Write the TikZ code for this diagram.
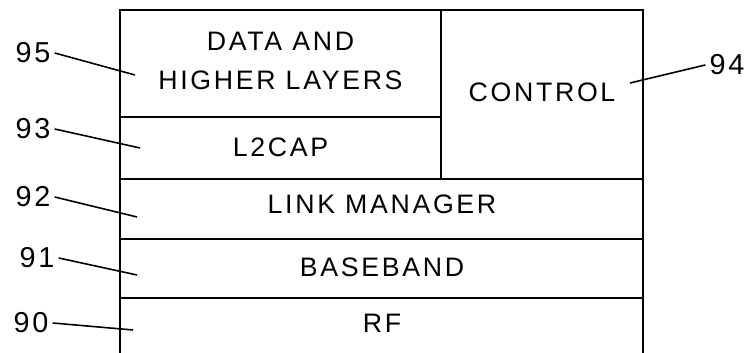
\documentclass[tikz,border=0pt]{standalone}
\usepackage{fontspec}
\setmainfont{Liberation Sans}[LetterSpace=10]
\usetikzlibrary{positioning}

\begin{document}
\begin{tikzpicture}[
  layer/.style={font=\fontsize{7.6}{11.2}\selectfont, align=center, inner sep=0pt},
  refnum/.style={font=\fontsize{8.2}{9}\selectfont, inner sep=1pt},
  frame/.style={line width=0.6pt},
  leader/.style={line width=0.45pt}
]
\useasboundingbox (0,0) rectangle (7.53,3.53);

% protocol stack outline, open at the bottom
\draw[frame] (1.20,0) -- (1.20,3.43) -- (6.43,3.43) -- (6.43,0);
\draw[frame] (4.41,3.43) -- (4.41,1.74);
\draw[frame] (1.20,2.36) -- (4.41,2.36);
\draw[frame] (1.20,1.74) -- (6.43,1.74);
\draw[frame] (1.20,1.14) -- (6.43,1.14);
\draw[frame] (1.20,0.55) -- (6.43,0.55);

\node[layer] (data) at (2.805,2.92) {DATA AND\\HIGHER LAYERS};
\node[layer] (l2cap) at (2.805,2.06) {L2CAP};
\node[layer] (ctrl) at (5.42,2.61) {CONTROL};
\node[layer] (lmp) at (3.82,1.49) {LINK MANAGER};
\node[layer] (bb) at (3.82,0.86) {BASEBAND};
\node[layer] (rf) at (3.82,0.30) {RF};

% reference numerals
\node[refnum] (n95) at (0.33,3.00) {95};
\node[refnum] (n93) at (0.33,2.24) {93};
\node[refnum] (n94) at (7.27,2.88) {94};
\node[refnum] (n92) at (0.33,1.56) {92};
\node[refnum] (n91) at (0.37,0.95) {91};
\node[refnum] (n90) at (0.31,0.30) {90};

\coordinate (p95) at (1.35,2.78);
\coordinate (p93) at (1.40,2.05);
\coordinate (p94) at (6.30,2.70);
\coordinate (p92) at (1.37,1.36);
\coordinate (p91) at (1.37,0.78);
\coordinate (p90) at (1.33,0.23);

\draw[leader] (n95.east) -- (p95);
\draw[leader] (n93.east) -- (p93);
\draw[leader] (n94.west) -- (p94);
\draw[leader] (n92.east) -- (p92);
\draw[leader] (n91.east) -- (p91);
\draw[leader] (n90.east) -- (p90);

\end{tikzpicture}
\end{document}
